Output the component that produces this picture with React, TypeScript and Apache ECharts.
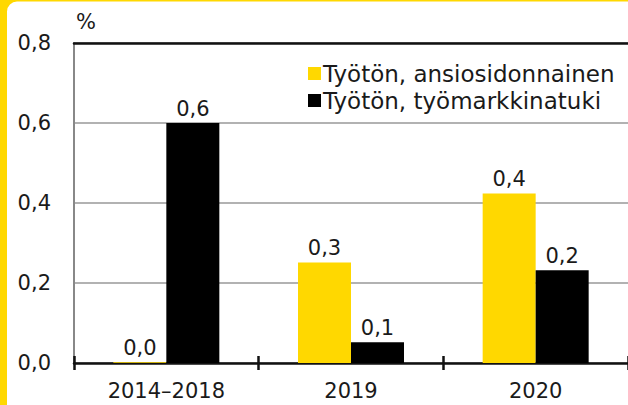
import React, { useEffect, useRef } from "react";
import * as echarts from "echarts";

const categories = ["2014–2018", "2019", "2020"];
const ansiosidonnainen = [0.002, 0.251, 0.424];
const tyomarkkinatuki = [0.6, 0.052, 0.232];
const seriesNames = ["Työtön, ansiosidonnainen", "Työtön, työmarkkinatuki"];
const yTicks = [0, 0.2, 0.4, 0.6, 0.8];

const FONT = "'DejaVu Sans', sans-serif";
const YELLOW = "#FFD800";
const FS = 21;

const fmt = (v: number) => v.toFixed(1).replace(".", ",");

export default function App() {
  const ref = useRef<HTMLDivElement>(null);
  useEffect(() => {
    document.body.style.margin = "0";
    const chart = echarts.init(ref.current!, null, { renderer: "svg" });
    const label = {
      show: true,
      position: "top" as const,
      distance: 4,
      color: "#1a1a1a",
      fontFamily: FONT,
      fontSize: FS,
      formatter: (p: any) => fmt(p.value),
    };
    chart.setOption({
      animation: false,
      backgroundColor: "#fff",
      textStyle: { fontFamily: FONT },
      grid: { left: 74, top: 43, width: 558, height: 320, containLabel: false },
      legend: {
        orient: "vertical",
        left: 303,
        top: 57,
        itemWidth: 13,
        itemHeight: 13,
        itemGap: 4,
        icon: "rect",
        textStyle: { fontFamily: FONT, fontSize: 23, color: "#1a1a1a", padding: [0, 0, 0, -3] },
        data: seriesNames,
      },
      xAxis: [
        {
          type: "category",
          data: categories,
          position: "bottom",
          axisLine: { lineStyle: { color: "#111", width: 2.5 } },
          axisTick: { show: true, length: 7, lineStyle: { color: "#111", width: 2.5 } },
          axisLabel: { fontFamily: FONT, fontSize: FS, color: "#1a1a1a", margin: 17 },
        },
        {
          type: "category",
          data: categories,
          position: "bottom",
          axisLine: { show: false },
          axisTick: { show: true, inside: true, length: 7, lineStyle: { color: "#111", width: 2.5 } },
          axisLabel: { show: false },
        },
        {
          type: "category",
          data: categories,
          position: "top",
          axisLine: { lineStyle: { color: "#111", width: 2.5 } },
          axisTick: { show: false },
          axisLabel: { show: false },
        },
      ],
      yAxis: {
        type: "value",
        min: 0,
        max: 0.8,
        interval: 0.2,
        axisLine: { show: true, lineStyle: { color: "#888", width: 2 } },
        axisTick: { show: false },
        splitLine: { lineStyle: { color: "#999", width: 1.5 } },
        axisLabel: {
          fontFamily: FONT,
          fontSize: FS,
          color: "#1a1a1a",
          margin: 23,
          formatter: (v: number) => (yTicks.includes(Math.round(v * 10) / 10) ? fmt(v) : ""),
        },
      },
      series: [
        {
          name: seriesNames[0],
          type: "bar",
          data: ansiosidonnainen,
          barWidth: 53,
          barGap: "0%",
          itemStyle: { color: YELLOW },
          label,
        },
        {
          name: seriesNames[1],
          type: "bar",
          data: tyomarkkinatuki,
          barWidth: 53,
          barGap: "0%",
          itemStyle: { color: "#000" },
          label,
        },
      ],
      graphic: [
        {
          type: "text",
          left: 76,
          top: 11,
          style: { text: "%", fontFamily: FONT, fontSize: FS, fill: "#1a1a1a" },
        },
        {
          type: "rect",
          shape: { x: 1, y: -4.5, width: 700, height: 500, r: 16 },
          style: { fill: "none", stroke: YELLOW, lineWidth: 12 },
          z: 100,
        },
      ],
    });
    return () => chart.dispose();
  }, []);
  return <div ref={ref} style={{ width: 628, height: 405 }} />;
}
